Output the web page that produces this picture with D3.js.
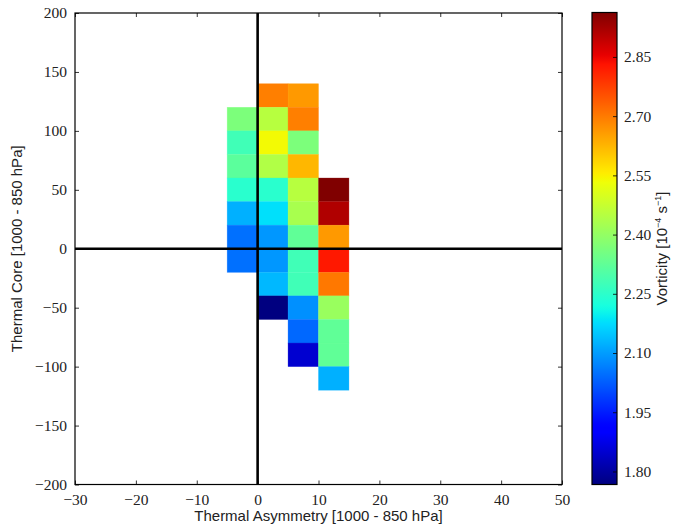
<!DOCTYPE html>
<html>
<head>
<meta charset="utf-8">
<script src="https://cdn.jsdelivr.net/npm/d3@7"></script>
<style>
  html, body { margin: 0; padding: 0; background: #fff; }
  svg { display: block; }
  .tick text { font-family: "Liberation Serif", "DejaVu Serif", serif; }
</style>
</head>
<body>
<div id="chart"></div>
<script>
// ---- data ----
const xDomain = [-30, 50];
const yDomain = [-200, 200];
const xTicks = [-30, -20, -10, 0, 10, 20, 30, 40, 50];
const yTicks = [-200, -150, -100, -50, 0, 50, 100, 150, 200];
const cbTicks = [1.80, 1.95, 2.10, 2.25, 2.40, 2.55, 2.70, 2.85];
const binWidth = 5;
const binHeight = 20;
// left edge of each column of cells and top edge of its highest cell
const colLeft = [-5, 0, 5, 10];
const colTop = [120, 140, 140, 60];
// vorticity values in each column, from top cell downward
const colA = [2.365, 2.278, 2.317, 2.245, 2.123, 2.048, 2.048];
const colB = [2.694, 2.452, 2.538, 2.442, 2.245, 2.179, 2.094, 2.094, 2.132, 1.767];
const colC = [2.661, 2.694, 2.365, 2.623, 2.452, 2.430, 2.325, 2.278, 2.278, 2.085, 2.038, 1.850];
const colD = [2.9625, 2.912, 2.661, 2.825, 2.703, 2.408, 2.325, 2.325, 2.123];
const colValues = [colA, colB, colC, colD];

// ---- layout ----
const W = 673, H = 531;
const plot = { left: 75, right: 562, top: 13, bottom: 484.5 };
const cb = { left: 592, right: 617, top: 12.5, bottom: 484.5 };

const svg = d3.select("#chart").append("svg").attr("width", W).attr("height", H);

const x = d3.scaleLinear().domain(xDomain).range([plot.left, plot.right]);
const y = d3.scaleLinear().domain(yDomain).range([plot.bottom, plot.top]);

// matplotlib jet colormap
const jetR = [[0, 0], [0.35, 0], [0.66, 1], [0.89, 1], [1, 0.5]];
const jetG = [[0, 0], [0.125, 0], [0.375, 1], [0.64, 1], [0.91, 0], [1, 0]];
const jetB = [[0, 0.5], [0.11, 1], [0.34, 1], [0.65, 0], [1, 0]];
function seg(pts, t) {
  t = Math.max(0, Math.min(1, t));
  for (let i = 1; i < pts.length; i++) {
    if (t <= pts[i][0]) {
      const [t0, v0] = pts[i - 1], [t1, v1] = pts[i];
      return v0 + (v1 - v0) * (t - t0) / (t1 - t0);
    }
  }
  return pts[pts.length - 1][1];
}
function jet(t) {
  return d3.rgb(255 * seg(jetR, t), 255 * seg(jetG, t), 255 * seg(jetB, t)).toString();
}

const cells = [];
colValues.forEach((vals, i) => {
  vals.forEach((v, j) => {
    const yt = colTop[i] - j * binHeight;
    cells.push({ x0: colLeft[i], x1: colLeft[i] + binWidth, y0: yt - binHeight, y1: yt, v });
  });
});
const allVals = cells.map(c => c.v);
const vExt = d3.extent(allVals);
const cScale = d3.scaleLinear().domain(vExt).range([0, 1]);

// clip
svg.append("clipPath").attr("id", "clip").append("rect")
  .attr("x", plot.left).attr("y", plot.top)
  .attr("width", plot.right - plot.left).attr("height", plot.bottom - plot.top);

const g = svg.append("g").attr("clip-path", "url(#clip)");
g.selectAll("rect.cell").data(cells).enter().append("rect")
  .attr("class", "cell")
  .attr("x", d => x(d.x0))
  .attr("y", d => y(d.y1))
  .attr("width", d => x(d.x1) - x(d.x0))
  .attr("height", d => y(d.y0) - y(d.y1))
  .attr("fill", d => jet(cScale(d.v)))
  .attr("stroke", d => jet(cScale(d.v)))
  .attr("stroke-opacity", 0.5)
  .attr("stroke-width", 0.6);

// zero lines
g.append("line").attr("x1", x(0)).attr("x2", x(0)).attr("y1", plot.top).attr("y2", plot.bottom)
  .attr("stroke", "#000").attr("stroke-width", 2.6);
g.append("line").attr("x1", plot.left).attr("x2", plot.right).attr("y1", y(0)).attr("y2", y(0))
  .attr("stroke", "#000").attr("stroke-width", 2.6);

// axes (inward ticks, classic matplotlib style)
const fmt = d => (d < 0 ? "\u2212" + Math.abs(d) : String(d));
const tickFont = 15.5;
const xAxis = svg.append("g").attr("transform", `translate(0,${plot.bottom})`)
  .call(d3.axisBottom(x).tickValues(xTicks).tickFormat(fmt).tickSizeInner(-4).tickSizeOuter(0).tickPadding(9));
const xAxisTop = svg.append("g").attr("transform", `translate(0,${plot.top})`)
  .call(d3.axisTop(x).tickValues(xTicks).tickFormat("").tickSizeInner(-4).tickSizeOuter(0));
const yAxis = svg.append("g").attr("transform", `translate(${plot.left},0)`)
  .call(d3.axisLeft(y).tickValues(yTicks).tickFormat(fmt).tickSizeInner(-4).tickSizeOuter(0).tickPadding(8));
const yAxisR = svg.append("g").attr("transform", `translate(${plot.right},0)`)
  .call(d3.axisRight(y).tickValues(yTicks).tickFormat("").tickSizeInner(-4).tickSizeOuter(0));
[xAxis, xAxisTop, yAxis, yAxisR].forEach(a => {
  a.select(".domain").remove();
  a.selectAll(".tick line").attr("stroke", "#000").attr("stroke-width", 0.8);
  a.selectAll(".tick text").attr("font-size", tickFont).attr("fill", "#222");
});
// frame
svg.append("rect").attr("x", plot.left).attr("y", plot.top)
  .attr("width", plot.right - plot.left).attr("height", plot.bottom - plot.top)
  .attr("fill", "none").attr("stroke", "#000").attr("stroke-width", 1.2);

// axis titles
svg.append("text").attr("x", (plot.left + plot.right) / 2).attr("y", 521)
  .attr("text-anchor", "middle").attr("font-family", "Liberation Sans, Arial, sans-serif")
  .attr("font-size", 15).attr("fill", "#222")
  .text("Thermal Asymmetry [1000 - 850 hPa]");
svg.append("text").attr("transform", `translate(22,${(plot.top + plot.bottom) / 2}) rotate(-90)`)
  .attr("text-anchor", "middle").attr("font-family", "Liberation Sans, Arial, sans-serif")
  .attr("font-size", 15).attr("fill", "#222")
  .text("Thermal Core [1000 - 850 hPa]");

// colorbar
const defs = svg.append("defs");
const grad = defs.append("linearGradient").attr("id", "jetgrad")
  .attr("x1", 0).attr("y1", 1).attr("x2", 0).attr("y2", 0);
d3.range(0, 1.0001, 0.01).forEach(t => {
  grad.append("stop").attr("offset", t).attr("stop-color", jet(t));
});
svg.append("rect").attr("x", cb.left).attr("y", cb.top)
  .attr("width", cb.right - cb.left).attr("height", cb.bottom - cb.top)
  .attr("fill", "url(#jetgrad)").attr("stroke", "#000").attr("stroke-width", 1.2);
const cy = d3.scaleLinear().domain(vExt).range([cb.bottom, cb.top]);
const cbAxis = svg.append("g").attr("transform", `translate(${cb.right},0)`)
  .call(d3.axisRight(cy).tickValues(cbTicks).tickFormat(d3.format(".2f")).tickSizeInner(-4).tickSizeOuter(0).tickPadding(7));
cbAxis.select(".domain").remove();
cbAxis.selectAll(".tick line").attr("stroke", "#000").attr("stroke-width", 0.8);
cbAxis.selectAll(".tick text").attr("font-size", tickFont).attr("fill", "#222");

const cbl = svg.append("text")
  .attr("transform", `translate(667,${(cb.top + cb.bottom) / 2}) rotate(-90)`)
  .attr("text-anchor", "middle").attr("font-family", "Liberation Sans, Arial, sans-serif")
  .attr("font-size", 15).attr("fill", "#222");
cbl.append("tspan").text("Vorticity [10");
cbl.append("tspan").attr("font-size", 9).attr("dy", -6).text("\u22124");
cbl.append("tspan").attr("dy", 6).text(" s");
cbl.append("tspan").attr("font-size", 9).attr("dy", -6).text("\u22121");
cbl.append("tspan").attr("dy", 6).text("]");
</script>
</body>
</html>
